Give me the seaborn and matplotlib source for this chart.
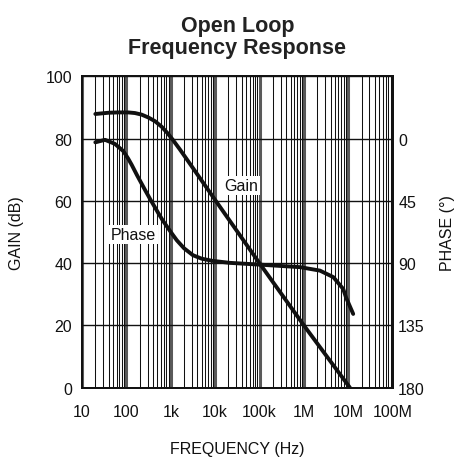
"""
Open loop frequency response: gain (left axis, dB) and phase (right axis,
degrees, inverted) against frequency on a log axis. Saves out.png.
"""

import matplotlib
matplotlib.use("Agg")  # no display
import matplotlib.pyplot as plt
import pandas as pd
import seaborn as sns
from matplotlib.ticker import FixedLocator, NullFormatter

# --------------------------------------------------------------------------- #
# Data
# --------------------------------------------------------------------------- #
GAIN_FREQ_HZ = [20, 40, 66, 110, 156, 220, 310, 440, 625, 850, 1100, 1610,
                3000, 10000, 30000, 103000, 1.0e6, 10.9e6]
GAIN_DB = [87.9, 88.3, 88.4, 88.4, 88.2, 87.7, 86.8, 85.6, 83.8, 81.7, 79.7,
           76.5, 71.0, 60.3, 50.6, 39.7, 20.0, 0.0]

PHASE_FREQ_HZ = [20, 33, 55, 85, 110, 132, 174, 262, 340, 523, 665, 1000,
                 1370, 2000, 3170, 5000, 8900, 21500, 103000, 818000, 2.3e6,
                 4.6e6, 7.7e6, 8.9e6, 12.9e6]
PHASE_DEG = [2.7, 0.9, 3.8, 9.0, 14.5, 19.0, 26.5, 37.0, 43.5, 53.8, 59.3,
             67.5, 73.5, 79.3, 84.3, 86.8, 88.4, 89.8, 91.1, 92.9, 95.4,
             100.1, 108.7, 114.8, 126.7]

X_TICKS = [10, 100, 1e3, 1e4, 1e5, 1e6, 1e7, 1e8]
X_TICK_LABELS = ["10", "100", "1k", "10k", "100k", "1M", "10M", "100M"]
GAIN_TICKS = [0, 20, 40, 60, 80, 100]
PHASE_TICKS = [0, 45, 90, 135, 180]

# --------------------------------------------------------------------------- #
# Style
# --------------------------------------------------------------------------- #
INK = "#111111"

sns.set_style("white")
plt.rcParams["font.family"] = ["Liberation Sans", "DejaVu Sans"]
plt.rcParams["font.size"] = 11.5
plt.rcParams["text.color"] = INK
plt.rcParams["axes.labelcolor"] = INK
plt.rcParams["xtick.color"] = INK
plt.rcParams["ytick.color"] = INK

LINE_KW = dict(color=INK, lw=2.8, sort=False, estimator=None, zorder=3,
               solid_joinstyle="round")

fig = plt.figure(figsize=(4.56, 4.64), dpi=100)
ax = fig.add_axes([0.1798, 0.1623, 0.6813, 0.6711])
ax2 = ax.twinx()

gain_df = pd.DataFrame({"freq": GAIN_FREQ_HZ, "gain": GAIN_DB})
phase_df = pd.DataFrame({"freq": PHASE_FREQ_HZ, "phase": PHASE_DEG})

# --- curves ----------------------------------------------------------------- #
sns.lineplot(data=gain_df, x="freq", y="gain", ax=ax, **LINE_KW)
# phase on an inverted right axis: 0 deg sits at 80 dB, 180 deg at 0 dB
sns.lineplot(data=phase_df, x="freq", y="phase", ax=ax2, **LINE_KW)

# --- axes ------------------------------------------------------------------- #
ax.set_xscale("log")
ax.set_xlim(10, 1e8)
ax.set_ylim(0, 100)
ax2.set_ylim(180, -45)

minor_x = [m * d for d in X_TICKS[:-1] for m in range(2, 10)]
ax.xaxis.set_major_locator(FixedLocator(X_TICKS))
ax.xaxis.set_minor_locator(FixedLocator(minor_x))
ax.xaxis.set_minor_formatter(NullFormatter())
ax.set_xticks(X_TICKS, labels=X_TICK_LABELS)
ax.set_yticks(GAIN_TICKS)
ax2.set_yticks(PHASE_TICKS)

# black lines for 2..9 of every decade, heavier grey decade lines
ax.grid(which="minor", axis="x", color=INK, lw=0.75)
ax.grid(which="major", axis="x", color="#5a5a5a", lw=2.2)
ax.grid(which="major", axis="y", color=INK, lw=1.0)
ax.set_axisbelow(True)
ax2.grid(False)

ax.tick_params(axis="both", which="both", length=0)
ax.tick_params(axis="x", pad=12)
ax.tick_params(axis="y", pad=7)
ax2.tick_params(axis="both", which="both", length=0)
ax2.tick_params(axis="y", pad=4)

for a in (ax, ax2):
    for spine in a.spines.values():
        spine.set_color(INK)
        spine.set_linewidth(1.3)

# --- curve labels ------------------------------------------------------------ #
box = dict(facecolor="white", edgecolor="none", pad=1.5)
ax.text(38000, 65.0, "Gain", ha="center", va="center", bbox=box, zorder=4)
ax.text(141, 49.2, "Phase", ha="center", va="center", bbox=box, zorder=4)

# --- axis labels and title ---------------------------------------------------- #
ax.set_xlabel("FREQUENCY (Hz)")
ax.xaxis.set_label_coords(0.5, -0.17)
ax.set_ylabel("GAIN (dB)")
ax.yaxis.set_label_coords(-0.187, 0.5)
ax2.set_xlabel("")
ax2.set_ylabel("PHASE (\u00b0)")
ax2.yaxis.set_label_coords(1.152, 0.5)

ax.set_title("Open Loop\nFrequency Response", fontsize=15.5,
             fontweight="bold", linespacing=1.05, pad=17, color="#222222")

fig.savefig("out.png", dpi=100)
